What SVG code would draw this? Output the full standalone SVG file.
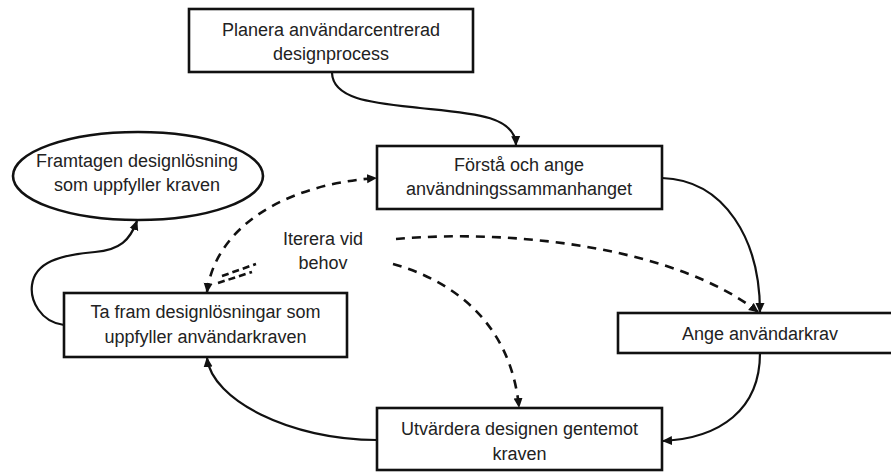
<svg xmlns="http://www.w3.org/2000/svg" width="891" height="472" viewBox="0 0 891 472">
<style>
.box{fill:#fff;stroke:#111;stroke-width:2.6}
.t{font-family:"Liberation Sans",Arial,sans-serif;font-size:18px;fill:#222;text-anchor:middle}
.c{fill:none;stroke:#111;stroke-width:2.2}
.d{fill:none;stroke:#111;stroke-width:2.6;stroke-dasharray:9 7}
</style>
<defs>
<marker id="ah" viewBox="0 0 10 10" refX="9" refY="5" markerWidth="10" markerHeight="10" markerUnits="userSpaceOnUse" orient="auto-start-reverse">
<path d="M0,0.5 L10,5 L0,9.5 Z" fill="#111"/>
</marker>
</defs>
<rect width="891" height="472" fill="#fff"/>
<g id="connectors">
<path class="c" d="M332,73 C333,100 375,103 420,108 C470,113 515,115 516,145" marker-end="url(#ah)"/>
<path class="c" d="M662,178 C725,180 760,240 760,312" marker-end="url(#ah)"/>
<path class="c" d="M760,353 C760,410 720,438 663,441" marker-end="url(#ah)"/>
<path class="c" d="M377,440 C290,440 212,400 207,358" marker-end="url(#ah)"/>
<path class="c" d="M64,325 C40,322 30,300 32,285 C35,262 60,255 95,252 C120,250 130,240 137,221" marker-end="url(#ah)"/>
<path class="d" d="M207,292 C215,230 280,185 376,178" marker-start="url(#ah)" marker-end="url(#ah)"/>
<path class="d" d="M222,276 L256,264" style="stroke-dasharray:7 4"/>
<path class="d" d="M218,283 L252,272" style="stroke-dasharray:7 4"/>
<path class="d" d="M396,239 C520,228 680,250 758,312" marker-end="url(#ah)"/>
<path class="d" d="M393,264 C450,280 510,320 519,407" marker-end="url(#ah)"/>
</g>
<g id="n1">
<rect class="box" x="189" y="9" width="284" height="63"/>
<text class="t" x="331" y="36">Planera användarcentrerad</text>
<text class="t" x="331" y="60">designprocess</text>
</g>
<g id="n2">
<rect class="box" x="377" y="146" width="285" height="63"/>
<text class="t" x="519" y="171">Förstå och ange</text>
<text class="t" x="519" y="195">användningssammanhanget</text>
</g>
<g id="n3">
<ellipse cx="138" cy="176" rx="125" ry="44" fill="#fff" stroke="#111" stroke-width="2.6"/>
<text class="t" x="137" y="167">Framtagen designlösning</text>
<text class="t" x="137" y="191">som uppfyller  kraven</text>
</g>
<g id="n4">
<rect class="box" x="64" y="293" width="283" height="64"/>
<text class="t" x="205.5" y="318">Ta fram designlösningar som</text>
<text class="t" x="205.5" y="343">uppfyller användarkraven</text>
</g>
<g id="n5">
<rect class="box" x="618" y="313" width="284" height="40"/>
<text class="t" x="760" y="340">Ange användarkrav</text>
</g>
<g id="n6">
<rect class="box" x="377" y="408" width="285" height="62"/>
<text class="t" x="519.5" y="435">Utvärdera designen gentemot</text>
<text class="t" x="519.5" y="460">kraven</text>
</g>
<g id="label">
<text class="t" x="323" y="245">Iterera vid</text>
<text class="t" x="323" y="269">behov</text>
</g>
</svg>
